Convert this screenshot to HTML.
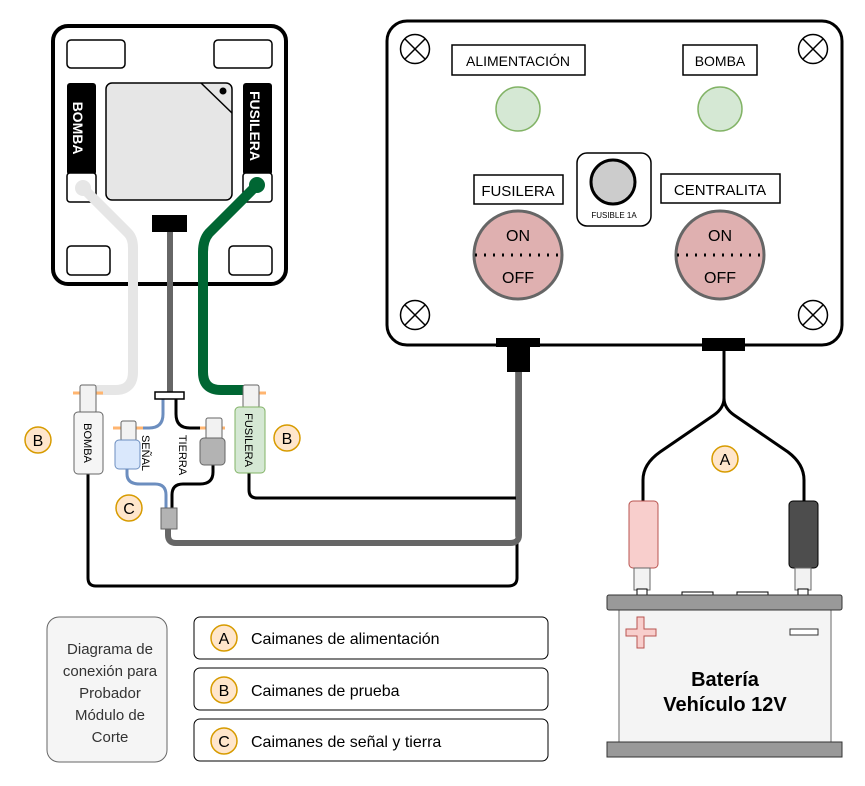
<!DOCTYPE html>
<html><head><meta charset="utf-8"><style>
html,body{margin:0;padding:0;background:#fff;}
svg{display:block;font-family:"Liberation Sans",Arial,sans-serif;}
</style></head><body>
<svg width="865" height="786" viewBox="0 0 865 786" xmlns="http://www.w3.org/2000/svg">
<rect width="865" height="786" fill="#fff"/>

<!-- control box -->
<rect x="387" y="21" width="455" height="324" rx="20" fill="#fff" stroke="#000" stroke-width="3"/>
<g stroke="#000" stroke-width="1.5" fill="#fff">
<circle cx="415" cy="49" r="14.5"/><path d="M405 39L425 59M425 39L405 59"/>
<circle cx="813" cy="49" r="14.5"/><path d="M803 39L823 59M823 39L803 59"/>
<circle cx="415" cy="315" r="14.5"/><path d="M405 305L425 325M425 305L405 325"/>
<circle cx="813" cy="315" r="14.5"/><path d="M803 305L823 325M823 305L803 325"/>
</g>
<rect x="452" y="45" width="133" height="30" fill="#fff" stroke="#000" stroke-width="1.5"/>
<text x="518" y="66" font-size="14" text-anchor="middle">ALIMENTACIÓN</text>
<rect x="683" y="45" width="74" height="30" fill="#fff" stroke="#000" stroke-width="1.5"/>
<text x="720" y="66" font-size="14" text-anchor="middle">BOMBA</text>
<circle cx="518" cy="109" r="22" fill="#d5e8d4" stroke="#82b366" stroke-width="1.5"/>
<circle cx="720" cy="109" r="22" fill="#d5e8d4" stroke="#82b366" stroke-width="1.5"/>
<rect x="577" y="153" width="74" height="73" rx="10" fill="#fff" stroke="#000" stroke-width="1.5"/>
<circle cx="613" cy="182" r="22" fill="#ccc" stroke="#000" stroke-width="3"/>
<text x="614" y="218" font-size="8" text-anchor="middle">FUSIBLE 1A</text>
<rect x="474" y="175" width="89" height="29" fill="#fff" stroke="#000" stroke-width="1.5"/>
<text x="518" y="196" font-size="15" text-anchor="middle">FUSILERA</text>
<rect x="661" y="174" width="119" height="29" fill="#fff" stroke="#000" stroke-width="1.5"/>
<text x="720" y="195" font-size="15" text-anchor="middle">CENTRALITA</text>
<circle cx="518" cy="255" r="44" fill="#dfb0b0" stroke="#666" stroke-width="3"/>
<circle cx="720" cy="255" r="44" fill="#dfb0b0" stroke="#666" stroke-width="3"/>
<path d="M475 255H561M677 255H763" stroke="#000" stroke-width="3" stroke-dasharray="2 7"/>
<text x="518" y="241" font-size="16" text-anchor="middle">ON</text>
<text x="518" y="283" font-size="16" text-anchor="middle">OFF</text>
<text x="720" y="241" font-size="16" text-anchor="middle">ON</text>
<text x="720" y="283" font-size="16" text-anchor="middle">OFF</text>
<rect x="496" y="338" width="44" height="9" fill="#000"/>
<rect x="507" y="346" width="23" height="26" fill="#000"/>
<rect x="702" y="338" width="43" height="13" fill="#000"/>

<!-- module -->
<rect x="53" y="26" width="233" height="258" rx="15" fill="#fff" stroke="#000" stroke-width="4"/>
<g fill="#fff" stroke="#000" stroke-width="1.5">
<rect x="67" y="40" width="58" height="28" rx="4"/>
<rect x="214" y="40" width="58" height="28" rx="4"/>
<rect x="67" y="246" width="43" height="29" rx="4"/>
<rect x="229" y="246" width="43" height="29" rx="4"/>
<rect x="106" y="83" width="126" height="117" rx="6" fill="#e6e6e6"/>
</g>
<path d="M201 83L232 113" stroke="#000" stroke-width="1.5"/>
<circle cx="223" cy="91" r="3.5" fill="#000"/>
<rect x="67" y="83" width="29" height="92" rx="3" fill="#000"/>
<rect x="67" y="173" width="29" height="29" rx="3" fill="#fff" stroke="#000" stroke-width="1.5"/>
<text transform="translate(73,128) rotate(90)" font-size="14" font-weight="bold" fill="#fff" text-anchor="middle">BOMBA</text>
<rect x="243" y="83" width="29" height="92" rx="3" fill="#000"/>
<rect x="243" y="173" width="29" height="29" rx="3" fill="#fff" stroke="#000" stroke-width="1.5"/>
<text transform="translate(250,126) rotate(90)" font-size="14" font-weight="bold" fill="#fff" text-anchor="middle">FUSILERA</text>
<rect x="152" y="215" width="35" height="17" fill="#000"/>

<!-- module wires -->
<path d="M83 188L128 233Q133 238 133 248V372Q133 390 115 390H96" fill="none" stroke="#e6e6e6" stroke-width="10" stroke-linecap="round" stroke-linejoin="round"/>
<circle cx="83" cy="188" r="8" fill="#e6e6e6"/>
<path d="M170 232V393" stroke="#666" stroke-width="6"/>
<path d="M257 185L209 233Q203 240 203 252V372Q203 390 221 390H244" fill="none" stroke="#006633" stroke-width="10" stroke-linecap="round"/>
<circle cx="257" cy="185" r="8" fill="#006633"/>

<!-- lower wiring -->
<path d="M88 474V578Q88 586 96 586H508Q517 586 517 578V372" fill="none" stroke="#000" stroke-width="3"/>
<path d="M249 473V490Q249 498 257 498H517" fill="none" stroke="#000" stroke-width="3"/>
<path d="M168 528V535Q168 543 176 543H510Q519 543 519 535V372" fill="none" stroke="#666" stroke-width="6"/>
<path d="M163 399V414Q163 428 149 428H136" fill="none" stroke="#6c8ebf" stroke-width="3"/>
<path d="M127 468V474Q127 484 140 484H155Q166 484 166 495V508" fill="none" stroke="#6c8ebf" stroke-width="3"/>
<path d="M176 399V414Q176 428 190 428H206" fill="none" stroke="#000" stroke-width="3"/>
<path d="M213 465V472Q213 484 200 484H183Q172 484 172 495V508" fill="none" stroke="#000" stroke-width="3"/>
<rect x="155" y="392" width="29" height="7" fill="#fff" stroke="#000" stroke-width="1.5"/>
<rect x="161" y="508" width="16" height="21" fill="#b3b3b3" stroke="#666" stroke-width="1"/>

<!-- connectors -->
<path d="M73 393H103M243 393H266M113 428H143M200 428H225" stroke="#ffb570" stroke-width="3"/>
<rect x="80" y="385" width="16" height="28" rx="2" fill="#f2f2f2" stroke="#666" stroke-width="1"/>
<rect x="74" y="412" width="29" height="62" rx="4" fill="#f5f5f5" stroke="#666" stroke-width="1"/>
<text transform="translate(84,443) rotate(90)" font-size="11" text-anchor="middle">BOMBA</text>
<rect x="121" y="421" width="15" height="20" rx="2" fill="#f2f2f2" stroke="#666" stroke-width="1"/>
<rect x="115" y="440" width="25" height="29" rx="4" fill="#dae8fc" stroke="#6c8ebf" stroke-width="1"/>
<text transform="translate(142,453) rotate(90)" font-size="11" text-anchor="middle">SEÑAL</text>
<rect x="206" y="418" width="16" height="22" rx="2" fill="#f2f2f2" stroke="#666" stroke-width="1"/>
<rect x="200" y="438" width="25" height="27" rx="4" fill="#b3b3b3" stroke="#666" stroke-width="1"/>
<text transform="translate(179,455) rotate(90)" font-size="11" text-anchor="middle">TIERRA</text>
<rect x="243" y="385" width="16" height="23" rx="2" fill="#f2f2f2" stroke="#666" stroke-width="1"/>
<rect x="235" y="407" width="30" height="66" rx="4" fill="#d5e8d4" stroke="#82b366" stroke-width="1"/>
<text transform="translate(245,440) rotate(90)" font-size="11" text-anchor="middle">FUSILERA</text>

<!-- battery wires -->
<path d="M724 351V398Q724 408 714 415L660 452Q643 464 643 480V501" fill="none" stroke="#000" stroke-width="3"/>
<path d="M724 398Q724 408 734 415L788 452Q804 464 804 480V501" fill="none" stroke="#000" stroke-width="3"/>
<rect x="629" y="501" width="29" height="67" rx="4" fill="#f8cecc" stroke="#b85450" stroke-width="1"/>
<rect x="634" y="568" width="16" height="22" fill="#f2f2f2" stroke="#666" stroke-width="1"/>
<rect x="789" y="501" width="29" height="67" rx="4" fill="#4d4d4d" stroke="#000" stroke-width="1"/>
<rect x="795" y="568" width="16" height="22" fill="#f2f2f2" stroke="#666" stroke-width="1"/>
<rect x="637" y="589" width="10" height="6" fill="#fff" stroke="#000"/>
<rect x="798" y="589" width="10" height="6" fill="#fff" stroke="#000"/>

<!-- battery -->
<rect x="682" y="592" width="31" height="4" fill="#fff" stroke="#000" stroke-width="1"/>
<rect x="737" y="592" width="31" height="4" fill="#fff" stroke="#000" stroke-width="1"/>
<rect x="619" y="608" width="212" height="136" fill="#f4f4f4" stroke="#999" stroke-width="1.5"/>
<rect x="607" y="595" width="235" height="15" rx="2" fill="#999" stroke="#333" stroke-width="1"/>
<rect x="607" y="742" width="235" height="15" fill="#999" stroke="#333" stroke-width="1"/>
<path d="M637 617H644V629H656V636H644V648H637V636H626V629H637Z" fill="#f8cecc" stroke="#b85450" stroke-width="1"/>
<rect x="790" y="629" width="28" height="6" fill="#fff" stroke="#333" stroke-width="1"/>
<text x="725" y="686" font-size="20" font-weight="bold" text-anchor="middle">Batería</text>
<text x="725" y="711" font-size="20" font-weight="bold" text-anchor="middle">Vehículo 12V</text>

<!-- legend -->
<rect x="47" y="617" width="120" height="145" rx="12" fill="#f5f5f5" stroke="#666" stroke-width="1"/>
<g font-size="15" text-anchor="middle" fill="#333">
<text x="110" y="654">Diagrama de</text><text x="110" y="676">conexión para</text><text x="110" y="698">Probador</text><text x="110" y="720">Módulo de</text><text x="110" y="742">Corte</text>
</g>
<g fill="#fff" stroke="#000" stroke-width="1">
<rect x="194" y="617" width="354" height="42" rx="6"/>
<rect x="194" y="668" width="354" height="42" rx="6"/>
<rect x="194" y="719" width="354" height="42" rx="6"/>
</g>
<g font-size="16">
<text x="251" y="644">Caimanes de alimentación</text>
<text x="251" y="696">Caimanes de prueba</text>
<text x="251" y="747">Caimanes de señal y tierra</text>
</g>

<!-- labels -->
<g fill="#ffe6cc" stroke="#d79b00" stroke-width="1.5">
<circle cx="38" cy="440" r="13"/><circle cx="287" cy="438" r="13"/><circle cx="129" cy="508" r="13"/><circle cx="725" cy="459" r="13"/>
<circle cx="224" cy="638" r="13"/><circle cx="224" cy="690" r="13"/><circle cx="224" cy="741" r="13"/>
</g>
<g font-size="16" text-anchor="middle">
<text x="38" y="446">B</text><text x="287" y="444">B</text><text x="129" y="514">C</text><text x="725" y="465">A</text>
<text x="224" y="644">A</text><text x="224" y="696">B</text><text x="224" y="747">C</text>
</g>
</svg>
</body></html>
